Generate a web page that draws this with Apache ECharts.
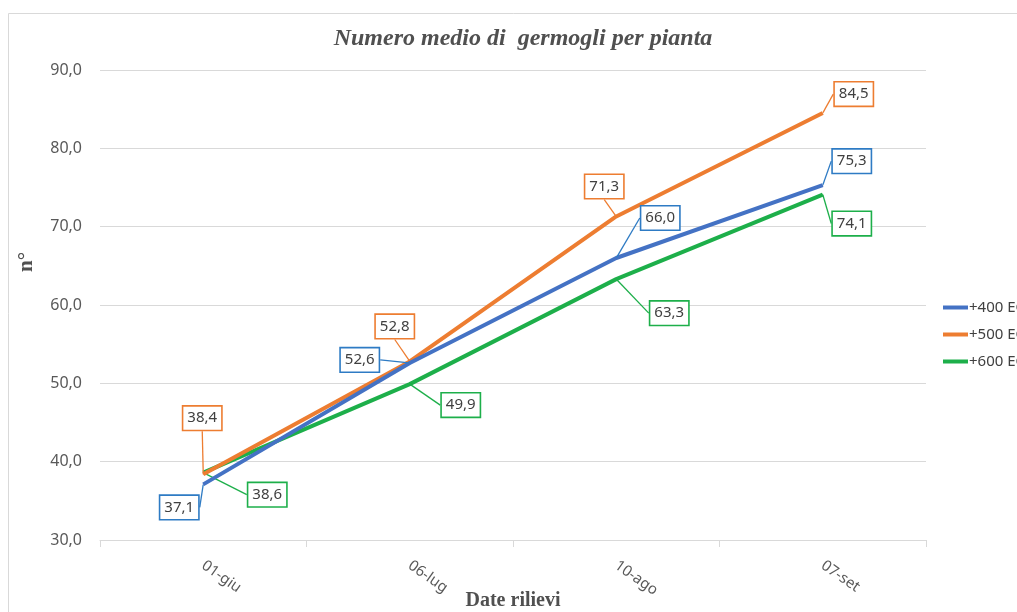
<!DOCTYPE html>
<html><head><meta charset="utf-8">
<script src="https://cdn.jsdelivr.net/npm/echarts@6/dist/echarts.min.js"></script>
<style>html,body{margin:0;padding:0;background:#fff}#c{width:1017px;height:612px}</style>
</head><body><div id="c"></div>
<script>
const categories = ['01-giu', '06-lug', '10-ago', '07-set'];
const seriesNames = ['+400 EC', '+500 EC', '+600 EC'];
const ec400 = [37.1, 52.6, 66.0, 75.3];
const ec500 = [38.4, 52.8, 71.3, 84.5];
const ec600 = [38.6, 49.9, 63.3, 74.1];
const yTicks = { min: 30, max: 90, interval: 10 };
const yName = 'n°';

const lineColors = ['#4472C4', '#ED7D31', '#1DAF4A'];
const boxColors = ['#2E7BC4', '#ED7D31', '#1DAF4A'];
// label offsets (px) from the data point to the label box centre
const offsets = [
  [[-24, 23], [-50, -3], [44, -40], [29, -24]],
  [[-1, -56], [-15, -35], [-12, -30], [31, -19]],
  [[64, 22], [51, 21], [53, 34], [29, 29]]
];
const fmt = v => v.toFixed(1).replace('.', ',');

const chart = echarts.init(document.getElementById('c'));
const allData = [ec400, ec500, ec600];
chart.setOption({
  animation: false,
  backgroundColor: '#fff',
  graphic: [
    { type: 'rect', shape: { x: 8.5, y: 13.5, width: 1100, height: 700 }, style: { fill: 'none', stroke: '#d9d9d9', lineWidth: 1 }, silent: true },
    { type: 'text', x: 27, y: 262, rotation: Math.PI / 2, silent: true,
      style: { text: yName, align: 'center', verticalAlign: 'middle', fontFamily: 'Liberation Serif', fontWeight: 'bold', fontSize: 21, fill: '#505050' } }
  ],
  title: {
    text: 'Numero medio di  germogli per pianta', left: 518, top: 22, textAlign: 'center',
    textStyle: { fontFamily: 'Liberation Serif', fontStyle: 'italic', fontWeight: 'bold', fontSize: 24, color: '#505050' }
  },
  legend: {
    orient: 'vertical', left: 938, top: 295, itemGap: 12, itemWidth: 25, itemHeight: 4, icon: 'rect',
    textStyle: { fontFamily: 'Noto Sans', fontSize: 15, color: '#404040', padding: [0, 0, 0, -4] },
    data: seriesNames
  },
  grid: { left: 100, right: 91, top: 70, bottom: 72, outerBoundsMode: 'none', containLabel: false },
  xAxis: {
    type: 'category', data: categories, boundaryGap: true,
    name: 'Date rilievi', nameLocation: 'middle', nameGap: 51, nameMoveOverlap: false,
    nameTextStyle: { fontFamily: 'Liberation Serif', fontWeight: 'bold', fontSize: 20, color: '#505050' },
    axisLine: { lineStyle: { color: '#d9d9d9' } },
    axisTick: { show: true, length: 7, lineStyle: { color: '#d9d9d9' } },
    axisLabel: { rotate: -35, margin: 24, fontFamily: 'Noto Sans', fontSize: 15, color: '#595959' }
  },
  yAxis: {
    type: 'value', min: yTicks.min, max: yTicks.max, interval: yTicks.interval,
    axisLine: { show: false }, axisTick: { show: false },
    splitLine: { lineStyle: { color: '#d9d9d9' } },
    axisLabel: { margin: 18, fontFamily: 'Noto Sans', fontSize: 16, color: '#595959', formatter: v => fmt(v) }
  },
  series: allData.map((d, si) => ({
    name: seriesNames[si], type: 'line', data: d,
    color: lineColors[si],
    symbol: 'circle', symbolSize: 1, showSymbol: true,
    lineStyle: { width: 4, color: lineColors[si] },
    itemStyle: { color: lineColors[si] },
    z: 3 - si,
    label: {
      show: true, position: 'inside', formatter: p => fmt(p.value),
      fontFamily: 'Noto Sans', fontSize: 15, color: '#404040',
      backgroundColor: '#fff', borderColor: boxColors[si], borderWidth: 1.6, padding: [5, 4, 3, 4]
    },
    labelLine: { show: true, lineStyle: { color: boxColors[si], width: 1.3 } },
    labelLayout: function (params) {
      const o = offsets[si][params.dataIndex];
      const cx = params.rect.x + params.rect.width / 2;
      const cy = params.rect.y + params.rect.height / 2;
      return { x: cx + o[0], y: cy + o[1], align: 'center', verticalAlign: 'middle' };
    },
    emphasis: { disabled: true }
  }))
});
</script></body></html>
